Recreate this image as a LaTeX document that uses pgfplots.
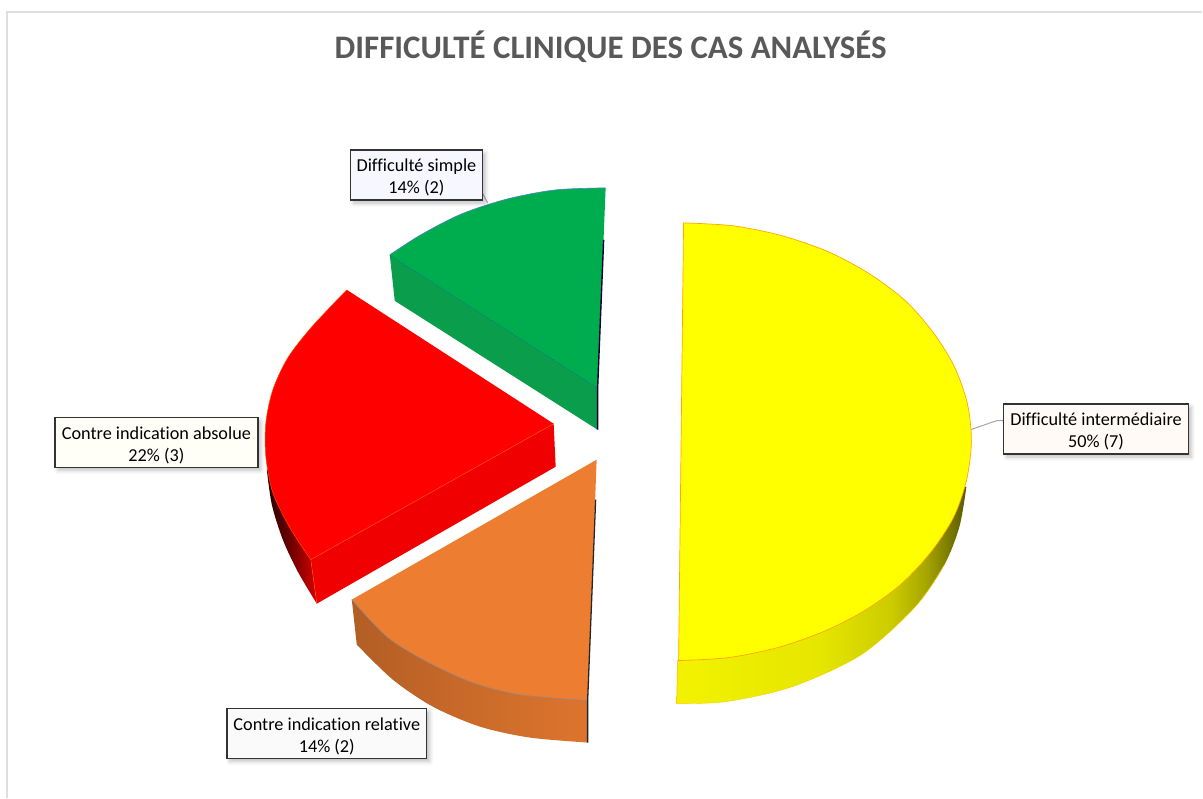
\documentclass[border=0pt]{standalone}
\usepackage{pgfplots}
\pgfplotsset{compat=1.18}
\usepackage{fontspec}
\setmainfont{Carlito}[Ligatures=NoCommon]
\usetikzlibrary{shadows,shadows.blur}
\definecolor{ygr}{HTML}{FFFF00}
\definecolor{gre}{HTML}{00AD4E}
\definecolor{gres}{HTML}{0A9E4C}
\definecolor{redt}{HTML}{FF0000}
\definecolor{reds}{HTML}{F00000}
\definecolor{ort}{HTML}{ED7D31}
\pgfdeclarehorizontalshading{yside}{100bp}{color(0bp)=(ygr!95!black);color(25bp)=(ygr!95!black);color(50bp)=(ygr!90!black);color(62bp)=(ygr!80!black);color(68bp)=(ygr!65!black);color(75bp)=(ygr!35!black);color(100bp)=(ygr!35!black)}
\pgfdeclarehorizontalshading{rside}{100bp}{color(0bp)=(black!85!red);color(25bp)=(black!85!red);color(50bp)=(red!45!black);color(75bp)=(red!85!black);color(100bp)=(red!85!black)}
\pgfdeclarehorizontalshading{oside}{100bp}{color(0bp)=(ort!75!black);color(25bp)=(ort!75!black);color(50bp)=(ort!85!black);color(75bp)=(ort!93!black);color(100bp)=(ort!93!black)}
\newcommand\up{\rule{0pt}{18pt}}
\tikzset{lab/.style={draw=black!80,line width=1.5pt,align=center,inner sep=0pt,
  font=\fontsize{18.3}{22}\selectfont,text=black,anchor=center},
  lshadow/.style={blur shadow={shadow xshift=3pt,shadow yshift=-3pt,shadow blur radius=4pt,shadow opacity=25}}}
\begin{document}
\begin{tikzpicture}
\begin{axis}[width=1203bp,height=798bp,scale only axis,hide axis,
  xmin=0,xmax=1203,ymin=0,ymax=798,y dir=reverse,clip=false,no markers]
% page extent
\addplot[draw=none] coordinates {(0,0) (1203,798)};
% frame
\addplot[draw=black!13,line width=1.5pt] coordinates {(1203,12) (7,12) (7,798)};
% leaders
\addplot[draw=black!35,line width=1pt] coordinates {(971,430) (997,421) (1004,421)};
\addplot[draw=black!35,line width=1pt] coordinates {(482,192) (488,203)};
% yellow side
\addplot[smooth,shading=yside,draw=none] coordinates {(967,487) (960,527) (945,565) (916,607) (862,655) (793,687) (727,702) (677,704)} -- (axis cs:678,661) -- (axis cs:800,500) -- cycle;
\addplot[smooth,draw=orange!40!yellow,line width=.4pt] coordinates {(945,565) (916,607) (862,655) (793,687) (727,702) (677,704)};
\addplot[draw=orange!60!yellow,line width=.5pt] coordinates {(678,661) (677,704)};
% yellow top
\addplot[smooth,fill=ygr,draw=orange!70!yellow,line width=.7pt] coordinates {(684,223) (734,226) (783,236) (829,252) (870,274) (906,301) (934,333) (955,367) (968,404) (972,442) (967,481) (954,518) (931,553) (901,585) (865,611) (824,632) (778,648) (729,658) (679,661)} --cycle;
% green
\addplot[fill=gres,draw=none] coordinates {(390,255) (395,301) (598,430) (598,388)} --cycle;
\addplot[draw=teal!70!blue,line width=.5pt] coordinates {(390,255) (598,388)};
\addplot[smooth,fill=gre,draw=none] coordinates {(606,188) (556,190) (508,199) (462,214) (421,235) (390,255)} -- (axis cs:598,388) -- cycle;
\addplot[smooth,draw=teal!60!blue!70,line width=.6pt] coordinates {(606,188) (556,190) (508,199) (462,214) (421,235) (390,255)};
\addplot[draw=black!80!blue,line width=1.4pt] coordinates {(604,240) (598,388) (598,430)};
% red sides
\addplot[smooth,shading=rside,draw=none] coordinates {(267,470) (272,505) (283,540) (298,572) (317,604)} -- (axis cs:311,560) -- (axis cs:300,480) -- cycle;
\addplot[fill=reds,draw=none] coordinates {(311,560) (317,604) (556,467) (554,424)} --cycle;
% red top
\addplot[smooth,fill=redt,draw=none] coordinates {(347,290) (312,327) (288,358) (273,390) (266,423) (266,457) (273,493) (290,528) (311,560)} -- (axis cs:554,424) -- cycle;
\addplot[smooth,draw=orange!60!red,line width=.5pt] coordinates {(347,290) (312,327) (288,358) (273,390) (266,423) (266,457) (273,493) (290,528) (311,560)};
\addplot[draw=orange!60!red,line width=.5pt] coordinates {(554,424) (311,560) (317,604)};
% orange side
\addplot[smooth,shading=oside,draw=none] coordinates {(357,645) (393,680) (433,707) (480,727) (530,738) (588,743)} -- (axis cs:588,701) -- (axis cs:500,650) -- (axis cs:352,600) -- cycle;
% orange top
\addplot[smooth,fill=ort,draw=none] coordinates {(352,600) (387,637) (427,662) (473,683) (520,695) (588,701)} -- (axis cs:597,460) -- cycle;
\addplot[smooth,draw=black!45,line width=.6pt] coordinates {(352,600) (387,637) (427,662) (473,683) (520,695) (588,701)};
\addplot[draw=black!85,line width=1.3pt] coordinates {(596,500) (588,701) (588,743)};
% labels
\node[lab,fill=blue!3,minimum width=132bp,minimum height=50bp,lshadow] at (axis cs:416.7,175.3) {\up Difficulté simple\\14\% (2)};
\node[lab,fill=yellow!3,minimum width=203bp,minimum height=50bp,lshadow] at (axis cs:156.5,442.7) {\up Contre indication absolue\\22\% (3)};
\node[lab,fill=black!2,minimum width=200bp,minimum height=50bp,lshadow] at (axis cs:327,734) {\up Contre indication relative\\14\% (2)};
\node[lab,fill=orange!4,minimum width=185bp,minimum height=50bp,lshadow] at (axis cs:1096.7,429.3) {\up Difficulté intermédiaire\\50\% (7)};
% title
\node[font=\fontsize{33}{38}\selectfont\bfseries,text=black!65,anchor=center] at (axis cs:611,47) {DIFFICULTÉ CLINIQUE DES CAS ANALYSÉS};
\end{axis}
\end{tikzpicture}
\end{document}
